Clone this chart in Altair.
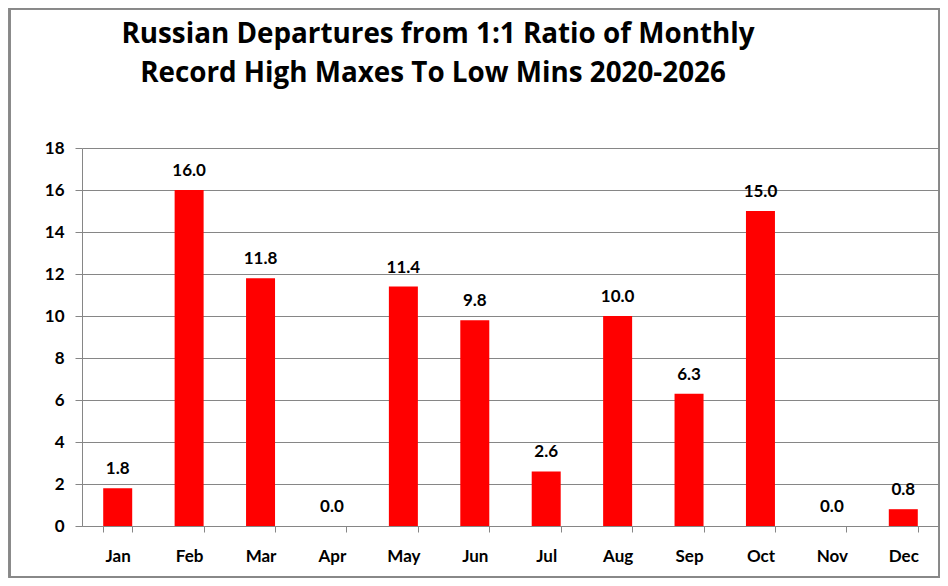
import altair as alt
import pandas as pd

months = ["Jan", "Feb", "Mar", "Apr", "May", "Jun", "Jul", "Aug", "Sep", "Oct", "Nov", "Dec"]
values = [1.8, 16.0, 11.8, 0.0, 11.4, 9.8, 2.6, 10.0, 6.3, 15.0, 0.0, 0.8]
y_ticks = [0, 2, 4, 6, 8, 10, 12, 14, 16, 18]
title_lines = ["Russian Departures from 1:1 Ratio of Monthly", "Record High Maxes To Low Mins 2020-2026"]

df = pd.DataFrame({"month": months, "value": values})
df["label"] = df["value"].map(lambda v: f"{v:.1f}")

FONT = "Lato"
TFONT = "Open Sans"
W, H = 857, 378

x_enc = alt.X("month:N", sort=months, title=None,
              scale=alt.Scale(paddingInner=0.594),
              axis=alt.Axis(labelAngle=0, labelFont=FONT, labelFontSize=17, labelFontWeight="bold",
                            labelColor="black", labelPadding=16, tickBand="extent", tickSize=6,
                            tickColor="#868686", domainColor="#868686", grid=False))
y_enc = alt.Y("value:Q", title=None,
              scale=alt.Scale(domain=[0, 18], nice=False),
              axis=alt.Axis(values=y_ticks, labelFont=FONT, labelFontSize=17, labelFontWeight="bold",
                            labelColor="black", labelPadding=11, tickSize=7, tickColor="#868686",
                            domainColor="#868686", gridColor="#868686", gridOpacity=1))

bars = alt.Chart(df).mark_bar(color="#FF0000").encode(x=x_enc, y=y_enc)
labels = alt.Chart(df).mark_text(font=FONT, fontSize=17, fontWeight="bold", color="black",
                                 baseline="alphabetic", dy=-14).encode(
    x=alt.X("month:N", sort=months), y="value:Q", text="label:N")

border = alt.Chart(df).mark_rect(fill=None, stroke="#888888", strokeWidth=1.5).encode(
    x=alt.value(-72.5), x2=alt.value(W + 0.5), y=alt.value(-139.5), y2=alt.value(H + 51))

title1 = alt.Chart(pd.DataFrame({"t": [title_lines[0]]})).mark_text(
    font=TFONT, fontSize=27.8, fontWeight="bold", color="black", baseline="alphabetic", align="center"
).encode(text="t:N", x=alt.value(356), y=alt.value(-105))
title2 = alt.Chart(pd.DataFrame({"t": [title_lines[1]]})).mark_text(
    font=TFONT, fontSize=27.8, fontWeight="bold", color="black", baseline="alphabetic", align="center"
).encode(text="t:N", x=alt.value(351), y=alt.value(-66))

chart = alt.layer(bars, labels, border, title1, title2).properties(
    width=W, height=H,
    autosize=alt.AutoSizeParams(type="none"),
    padding={"left": 74, "top": 140, "right": 1, "bottom": 52},
    background="white",
).configure_view(stroke=None)

chart.save("out.html", embed_options={"renderer": "svg", "actions": False})
